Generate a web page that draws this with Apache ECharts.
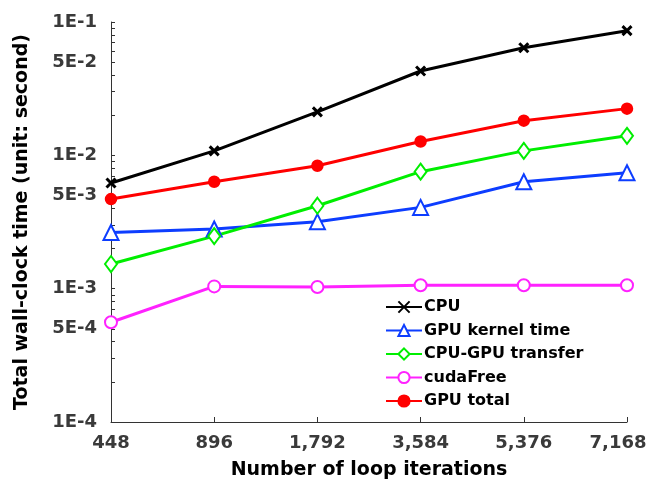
<!DOCTYPE html>
<html>
<head>
<meta charset="utf-8">
<script src="https://cdn.jsdelivr.net/npm/echarts@6/dist/echarts.min.js"></script>
<style>
  html, body { margin: 0; padding: 0; background: #fff; }
  #chart { width: 646px; height: 485px; }
</style>
</head>
<body>
<div id="chart"></div>
<script>
// loop iteration counts (category axis)
const iterations = ['448', '896', '1,792', '3,584', '5,376', '7,168'];

// wall-clock times in seconds
const cpuTime      = [0.0062, 0.0108, 0.0212, 0.0429, 0.0641, 0.0861];
const gpuKernel    = [0.00264, 0.0028, 0.00318, 0.00407, 0.00634, 0.00741];
const transferTime = [0.00153, 0.00248, 0.00419, 0.00754, 0.0108, 0.0140];
const cudaFreeTime = [0.00056, 0.00104, 0.00103, 0.00106, 0.00106, 0.00106];
const gpuTotal     = [0.0047, 0.00634, 0.00836, 0.0127, 0.0182, 0.0224];

// y tick labels
const yLabelValues = [1e-4, 5e-4, 1e-3, 5e-3, 1e-2, 5e-2, 1e-1];
const yLabelTexts  = ['1E-4', '5E-4', '1E-3', '5E-3', '1E-2', '5E-2', '1E-1'];

// minor ticks at 1..9 x 10^k
const yTickValues = [];
[-4, -3, -2].forEach(e => {
    for (let m = 1; m <= 9; m++) yTickValues.push(m * Math.pow(10, e));
});
yTickValues.push(1e-1);

const crossPath = 'path://M0,0L10,10M10,0L0,10';
const font = 'DejaVu Sans';
const tickFont = { fontFamily: font, fontWeight: 'bold', fontSize: 18, color: '#3a3a3a' };

const chart = echarts.init(document.getElementById('chart'));

function mkSeries(name, data, color, symbol, size, extra) {
    return Object.assign({
        name: name,
        type: 'line',
        data: data,
        symbol: symbol,
        symbolSize: size,
        lineStyle: { color: color, width: 3 },
        itemStyle: { color: color, borderColor: color, borderWidth: 2.5 },
        emphasis: { disabled: true },
        z: 3
    }, extra || {});
}

const option = {
    backgroundColor: '#fff',
    animation: false,
    grid: { left: 111, right: 19, top: 22, bottom: 63, containLabel: false, outerBoundsMode: 'none' },
    legend: {
        orient: 'vertical',
        left: 380,
        top: 294,
        itemWidth: 36,
        itemHeight: 14,
        itemGap: 7.5,
        selectedMode: false,
        textStyle: { fontFamily: font, fontWeight: 'bold', fontSize: 16, color: '#000', padding: [0, 0, 0, -3] },
        data: ['CPU', 'GPU kernel time', 'CPU-GPU transfer', 'cudaFree', 'GPU total']
    },
    xAxis: {
        type: 'category',
        data: iterations,
        boundaryGap: false,
        name: 'Number of loop iterations',
        nameLocation: 'middle',
        nameGap: 39,
        nameMoveOverlap: false,
        nameTextStyle: { fontFamily: font, fontWeight: 'bold', fontSize: 19, color: '#000' },
        axisLine: { show: true, lineStyle: { color: '#333', width: 1 } },
        axisTick: { show: true, inside: true, length: 5, interval: 0, lineStyle: { color: '#333' } },
        axisLabel: Object.assign({}, tickFont, {
            margin: 12,
            interval: 0,
            hideOverlap: false,
            formatter: function (v, i) {
                return i === iterations.length - 1 ? '{last|' + v + '}' : v;
            },
            rich: { last: Object.assign({}, tickFont, { padding: [0, 18, 0, 0] }) }
        }),
        splitLine: { show: false }
    },
    yAxis: {
        type: 'log',
        logBase: 10,
        min: 1e-4,
        max: 1e-1,
        name: 'Total wall-clock time (unit: second)',
        nameLocation: 'middle',
        nameGap: 79,
        nameMoveOverlap: false,
        nameTextStyle: { fontFamily: font, fontWeight: 'bold', fontSize: 19, color: '#000' },
        axisLine: { show: true, lineStyle: { color: '#333', width: 1 } },
        axisTick: { show: true, inside: true, length: 4, customValues: yTickValues, lineStyle: { color: '#333' } },
        axisLabel: Object.assign({}, tickFont, {
            margin: 14,
            customValues: yLabelValues,
            formatter: function (v) {
                let best = 0;
                yLabelValues.forEach((t, i) => {
                    if (Math.abs(Math.log10(t) - Math.log10(v)) < Math.abs(Math.log10(yLabelValues[best]) - Math.log10(v))) best = i;
                });
                return yLabelTexts[best];
            }
        }),
        splitLine: { show: false },
        minorTick: { show: false }
    },
    series: [
        mkSeries('CPU', cpuTime, '#000000', crossPath, 9, { itemStyle: { color: '#000', borderColor: '#000', borderWidth: 3 } }),
        mkSeries('GPU kernel time', gpuKernel, '#0d3dff', 'emptyTriangle', 15),
        mkSeries('CPU-GPU transfer', transferTime, '#00ee00', 'emptyDiamond', [12, 16]),
        mkSeries('cudaFree', cudaFreeTime, '#ff22ff', 'emptyCircle', 12),
        mkSeries('GPU total', gpuTotal, '#ff0000', 'circle', 10)
    ]
};

chart.setOption(option);
</script>
</body>
</html>
